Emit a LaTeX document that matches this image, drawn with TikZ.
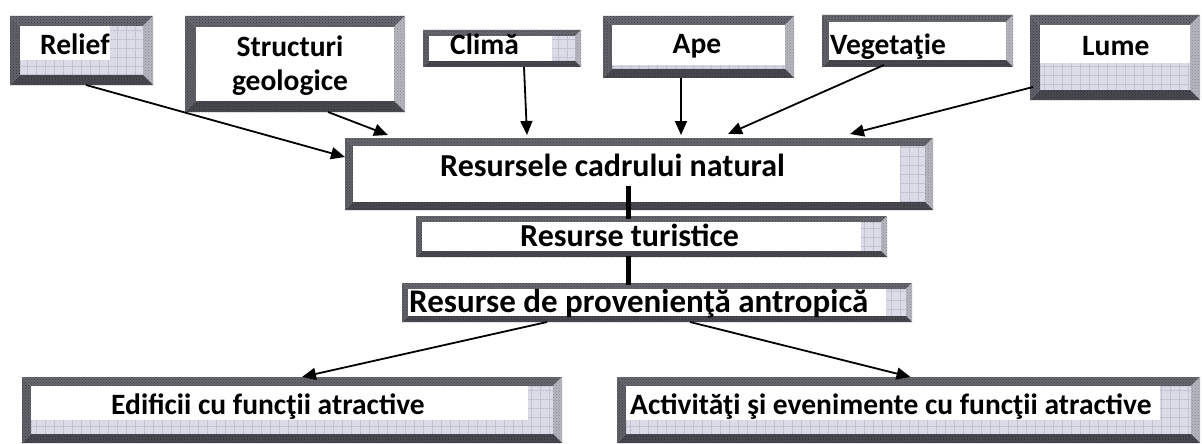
\documentclass[tikz,border=0pt]{standalone}
\usepackage{fontspec}
\setmainfont{Carlito}
\usetikzlibrary{arrows.meta,patterns,patterns.meta,fit}
\definecolor{inbg}{RGB}{220,220,232}
\definecolor{inln}{RGB}{194,194,210}
\definecolor{btop}{RGB}{104,104,112}
\definecolor{btopd}{RGB}{60,60,68}
\definecolor{bleft}{RGB}{98,98,106}
\definecolor{bleftd}{RGB}{58,58,66}
\definecolor{bright}{RGB}{182,182,190}
\definecolor{brightd}{RGB}{138,138,146}
\definecolor{bbot}{RGB}{74,74,82}
\definecolor{bbotd}{RGB}{40,40,46}
\tikzset{
  inpat/.style={preaction={fill=inbg}, pattern={Hatch[angle=0,distance=9pt,line width=0.8pt]}, pattern color=inln},
  bevtop/.style={preaction={fill=btop}, pattern=crosshatch dots, pattern color=btopd},
  bevleft/.style={preaction={fill=bleft}, pattern=crosshatch dots, pattern color=bleftd},
  bevright/.style={preaction={fill=bright}, pattern=crosshatch dots, pattern color=brightd},
  bevbot/.style={preaction={fill=bbot}, pattern=crosshatch dots, pattern color=bbotd},
  lbl/.style={inner sep=0pt, font=\fontsize{29.5}{34}\selectfont\bfseries},
  biglbl/.style={inner sep=0pt, font=\fontsize{32}{36}\selectfont\bfseries},
  arr/.style={-{Triangle[length=14pt,width=12pt]}, line width=1.8pt, black},
  thk/.style={line width=5pt, black}
}
\newcommand\bevbox[6]{%
  \node[fit={(#2,#3) (#4,#5)}, inner sep=0pt, outer sep=0pt] (#1) {};
  \fill[inpat] ([shift={(#6pt,-#6pt)}]#1.north west) rectangle ([shift={(-#6pt,#6pt)}]#1.south east);
  \fill[bevtop] (#1.north west) -- (#1.north east) -- ([shift={(-#6pt,-#6pt)}]#1.north east) -- ([shift={(#6pt,-#6pt)}]#1.north west) -- cycle;
  \fill[bevleft] (#1.north west) -- ([shift={(#6pt,-#6pt)}]#1.north west) -- ([shift={(#6pt,#6pt)}]#1.south west) -- (#1.south west) -- cycle;
  \fill[bevright] (#1.north east) -- (#1.south east) -- ([shift={(-#6pt,#6pt)}]#1.south east) -- ([shift={(-#6pt,-#6pt)}]#1.north east) -- cycle;
  \fill[bevbot] (#1.south west) -- ([shift={(#6pt,#6pt)}]#1.south west) -- ([shift={(-#6pt,#6pt)}]#1.south east) -- (#1.south east) -- cycle;
}
\begin{document}
\begin{tikzpicture}[x=1pt,y=-1pt]
\useasboundingbox[fill=white] (0,0) rectangle (1202,444);
% boxes
\bevbox{relief}{10}{16}{153}{85}{10}
\fill[white] (20,26) rectangle (110,60);
\bevbox{struct}{185}{16}{405}{112}{11}
\fill[white] (196,27) rectangle (394,101);
\bevbox{clima}{423}{30}{581}{67}{6}
\fill[white] (429,36) rectangle (552,61);
\bevbox{ape}{603}{16}{794}{78}{9}
\fill[white] (612,25) rectangle (785,65);
\bevbox{veg}{822}{15}{1013}{67}{7}
\fill[white] (829,22) rectangle (1006,60);
\bevbox{lume}{1030}{15}{1200}{100}{10}
\fill[white] (1040,25) rectangle (1190,63);
\bevbox{res}{345}{138}{933}{210}{8}
\fill[white] (353,146) rectangle (900,202);
\bevbox{tur}{416}{216}{887}{257}{6}
\fill[white] (422,222) rectangle (861,251);
\bevbox{prov}{402}{283}{912}{322}{6}
\fill[white] (408,289) rectangle (886,316);
\bevbox{edif}{22}{377}{562}{443}{9}
\fill[white] (31,386) rectangle (528,420);
\bevbox{act}{617}{377}{1200}{443}{9}
\fill[white] (626,386) rectangle (1160,420);
% labels
\node[lbl, anchor=base west] (treliefl) at (40,55) {Relief};
\node[lbl, anchor=base] (tstructa) at (290,57) {Structuri};
\node[lbl, anchor=base] (tstructb) at (290,91) {geologice};
\node[lbl, anchor=base west] (tclima) at (450,55) {Climă};
\node[lbl, anchor=base] (tape) at (697,54) {Ape};
\node[lbl, anchor=base west] (tveg) at (830,55) {Vegetaţie};
\node[lbl, anchor=base west] (tlume) at (1082,56) {Lume};
\node[biglbl, anchor=base west] (tres) at (440,176) {Resursele cadrului natural};
\node[biglbl, anchor=base west] (ttur) at (520,246) {Resurse turistice};
\node[biglbl, anchor=base west, font=\fontsize{33}{37}\selectfont\bfseries] (tprov) at (409,312) {Resurse de provenienţă antropică};
\node[lbl, anchor=base west] (tedif) at (111,414) {Edificii cu funcţii atractive};
\node[lbl, anchor=base west] (tact) at (630,414) {Activităţi şi evenimente cu funcţii atractive};
% connectors
\draw[thk] ([xshift=-11pt,yshift=24pt]res.south) -- ([xshift=-23.5pt,yshift=-3pt]tur.north);
\draw[thk] ([xshift=-23.5pt,yshift=1pt]tur.south) -- ([xshift=-29pt,yshift=-2pt]prov.north);
\draw[arr] ([xshift=4.5pt]relief.south) -- ([yshift=-19pt]res.north west);
\draw[arr] ([xshift=33pt]struct.south) -- ([xshift=43pt,yshift=3pt]res.north west);
\draw[arr] ([xshift=22pt]clima.south) -- ([xshift=182pt,yshift=3pt]res.north west);
\draw[arr] ([xshift=-17.5pt]ape.south) -- ([xshift=336pt,yshift=3pt]res.north west);
\draw[arr] ([xshift=-33.5pt,yshift=2pt]veg.south) -- ([xshift=383pt,yshift=4pt]res.north west);
\draw[arr] ([xshift=3pt,yshift=13pt]lume.south west) -- ([xshift=505pt,yshift=4pt]res.north west);
\draw[arr] ([xshift=-110pt]prov.south) -- ([xshift=10pt]edif.north);
\draw[arr] ([xshift=33pt]prov.south) -- ([xshift=2pt]act.north);
\end{tikzpicture}
\end{document}
